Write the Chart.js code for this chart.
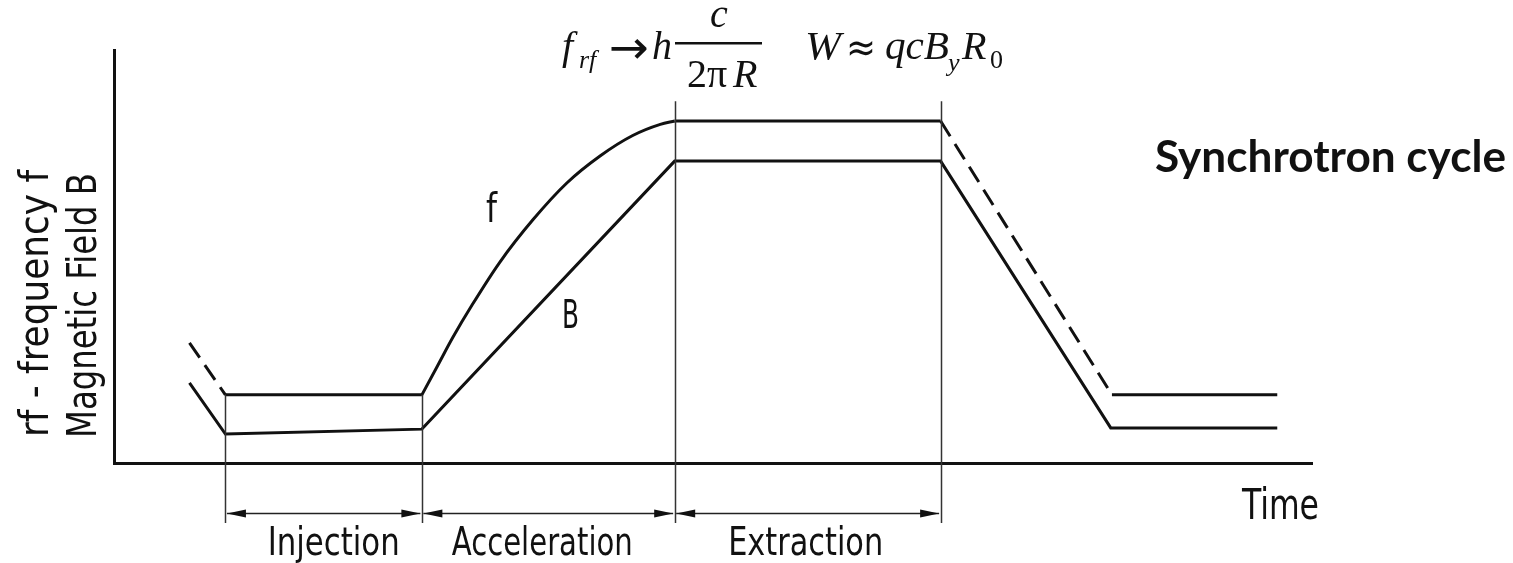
<!DOCTYPE html>
<html>
<head>
<meta charset="utf-8">
<title>Synchrotron cycle</title>
<script src="https://cdn.jsdelivr.net/npm/chart.js@4.4.0/dist/chart.umd.min.js"></script>
<style>
  html, body { margin: 0; padding: 0; background: #fff; }
  #wrap { width: 1513px; height: 563px; }
</style>
</head>
<body>
<div id="wrap"><canvas id="cycle"></canvas></div>
<script>
// time in arbitrary units (0..100), value in arbitrary units (0..100)
const phaseEdges = [9.3, 25.7, 46.8, 69.0];
const phaseNames = ['Injection', 'Acceleration', 'Extraction'];
const phaseLineTop = [16.5, 16.5, 87.6, 87.6];

// rf frequency f : flat parts (solid), ramp (curved), transitions (dashed)
const fFlatT = [9.3, 25.7, null, 46.8, 69.0, null, 83.3, 97.1];
const fFlatV = [16.5, 16.5, null, 82.8, 82.8, null, 16.5, 16.5];
const fRampT = [25.7, 27.0, 28.3, 29.9, 32.2, 35.0, 37.8, 40.6, 43.3, 45.6, 46.8];
const fRampV = [16.5, 23.5, 30.5, 38.3, 48.6, 59.0, 67.8, 74.4, 79.3, 82.0, 82.8];
const fDashT = [6.3, 9.3, null, 69.0, 83.3];
const fDashV = [29.1, 16.5, null, 82.8, 16.5];

// magnetic field B
const bT = [6.3, 9.3, 25.7, 46.8, 69.0, 83.2, 97.1];
const bV = [19.4, 7.0, 8.2, 73.1, 73.1, 8.5, 8.5];

function pts(ts, vs) {
  let last = 0;
  return ts.map((t, i) => {
    if (t === null) return { x: last, y: null };
    last = t;
    return { x: t, y: vs[i] };
  });
}

const INK = '#111';
const LABEL_FONT = "'Liberation Sans Narrow', 'DejaVu Sans Condensed', 'Liberation Sans', sans-serif";
const SERIF = "'Liberation Serif', 'DejaVu Serif', serif";

function fitText(ctx, str, x, y, font, width, rot) {
  ctx.save();
  ctx.font = font;
  ctx.textAlign = 'left';
  ctx.textBaseline = 'alphabetic';
  const w = ctx.measureText(str).width;
  ctx.translate(x, y);
  if (rot) ctx.rotate(rot);
  if (width) ctx.scale(width / w, 1);
  ctx.fillText(str, 0, 0);
  ctx.restore();
}

function arrowHead(ctx, px, py, dir) {
  ctx.beginPath();
  ctx.moveTo(px, py);
  ctx.lineTo(px + dir * 19, py - 4);
  ctx.lineTo(px + dir * 19, py + 4);
  ctx.closePath();
  ctx.fill();
}

const sketch = {
  id: 'sketch',
  afterDraw(chart) {
    const { ctx, scales: { x, y }, chartArea } = chart;
    const axisY = chartArea.bottom;
    ctx.save();
    ctx.fillStyle = INK;

    // phase boundaries
    ctx.strokeStyle = '#333';
    ctx.lineWidth = 1.5;
    phaseEdges.forEach((t, i) => {
      const px = Math.round(x.getPixelForValue(t)) + 0.5;
      ctx.beginPath();
      ctx.moveTo(px, y.getPixelForValue(phaseLineTop[i]));
      ctx.lineTo(px, axisY + 60);
      ctx.stroke();
    });

    // phase arrows and names
    const ay = axisY + 50.5;
    const widths = [132, 181, 155];
    const nudge = [10, -6, -2];
    ctx.lineWidth = 1.3;
    ctx.strokeStyle = '#222';
    phaseNames.forEach((name, i) => {
      const a = x.getPixelForValue(phaseEdges[i]) + 1.5;
      const b = x.getPixelForValue(phaseEdges[i + 1]) - 1.5;
      ctx.beginPath();
      ctx.moveTo(a, ay);
      ctx.lineTo(b, ay);
      ctx.stroke();
      arrowHead(ctx, a, ay, 1);
      arrowHead(ctx, b, ay, -1);
      const cx = (a + b) / 2 + nudge[i];
      fitText(ctx, name, cx - widths[i] / 2, axisY + 92, '39px ' + LABEL_FONT, widths[i]);
    });

    // axis labels
    fitText(ctx, 'Time', 1242, 519, '42px ' + LABEL_FONT, 77);
    fitText(ctx, 'rf - frequency f', 48, 437, '41px ' + LABEL_FONT, 267, -Math.PI / 2);
    fitText(ctx, 'Magnetic Field B', 96, 438, '41px ' + LABEL_FONT, 265, -Math.PI / 2);

    // curve labels
    fitText(ctx, 'f', 486, 222, '40px ' + LABEL_FONT, 11);
    fitText(ctx, 'B', 562, 328, '39px ' + LABEL_FONT, 17);

    // title
    fitText(ctx, 'Synchrotron cycle', 1155, 172, 'bold 44px Lato, "Open Sans", sans-serif', 351);

    // formulas
    const it = 'italic 40px ' + SERIF, itS = 'italic 26px ' + SERIF;
    const rm = '40px ' + SERIF, rmS = '26px ' + SERIF;
    fitText(ctx, 'f', 562, 59, it);
    fitText(ctx, 'rf', 579, 68, itS);
    fitText(ctx, '\u2192', 609, 63, '46px "DejaVu Sans", sans-serif', 40);
    fitText(ctx, 'h', 652, 59, it);
    fitText(ctx, 'c', 710, 27, it);
    ctx.fillRect(675, 42, 87, 2.5);
    fitText(ctx, '2\u03c0', 687, 87, rm);
    fitText(ctx, 'R', 733, 87, it);
    fitText(ctx, 'W', 805, 59, it, 36);
    fitText(ctx, '\u2248', 846, 61, '40px "DejaVu Sans", sans-serif', 30);
    fitText(ctx, 'qcB', 885, 59, it, 64);
    fitText(ctx, 'y', 948, 71, itS);
    fitText(ctx, 'R', 962, 59, it);
    fitText(ctx, '0', 990, 68, rmS);

    ctx.restore();
  }
};

const lineBase = {
  borderColor: INK,
  borderWidth: 3,
  pointRadius: 0,
  fill: false,
  clip: false,
  spanGaps: false,
  borderJoinStyle: 'miter'
};

const config = {
  type: 'line',
  data: {
    datasets: [
      Object.assign({ label: 'f', data: pts(fFlatT, fFlatV), tension: 0 }, lineBase),
      Object.assign({ label: 'f ramp', data: pts(fRampT, fRampV), cubicInterpolationMode: 'monotone' }, lineBase),
      Object.assign({ label: 'f transition', data: pts(fDashT, fDashV), tension: 0, borderDash: [18, 9] }, lineBase),
      Object.assign({ label: 'B', data: pts(bT, bV), tension: 0 }, lineBase)
    ]
  },
  options: {
    responsive: true,
    maintainAspectRatio: false,
    devicePixelRatio: 1,
    animation: false,
    events: [],
    layout: { padding: { left: 114, right: 201, top: 50, bottom: 100 } },
    plugins: {
      legend: { display: false },
      tooltip: { enabled: false },
      title: { display: false }
    },
    scales: {
      x: {
        type: 'linear',
        min: 0,
        max: 100,
        ticks: { display: false },
        grid: { display: false, drawTicks: false, tickLength: 0 },
        border: { display: true, color: INK, width: 3 }
      },
      y: {
        type: 'linear',
        min: 0,
        max: 100,
        ticks: { display: false },
        grid: { display: false, drawTicks: false, tickLength: 0 },
        border: { display: true, color: INK, width: 3 }
      }
    }
  },
  plugins: [sketch]
};

var chart = new Chart(document.getElementById('cycle'), config);
</script>
</body>
</html>
